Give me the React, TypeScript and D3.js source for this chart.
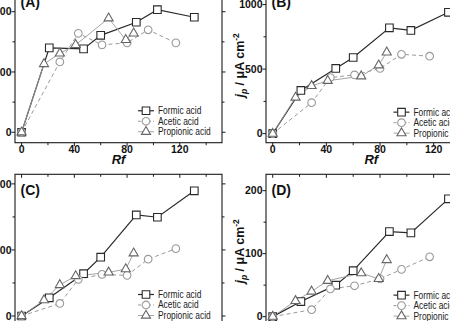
import React from 'react';
import * as d3 from 'd3';

// Rf values at which each acid was measured
const rfFormic = [0, 21, 47, 60, 87, 103, 131];
const rfAcetic = [0, 29, 43, 61, 80, 96, 117];
const rfPropionic = [0, 17, 29, 41, 66, 79, 85];

// peak currents per panel
const formicA = [0, 840, 830, 965, 1095, 1220, 1145];
const aceticA = [0, 700, 985, 870, 890, 1020, 890];
const propionicA = [0, 680, 785, 870, 1135, 920, 985];

const formicB = [0, 335, 505, 590, 820, 800, 940];
const aceticB = [0, 240, 435, 455, 505, 615, 600];
const propionicB = [0, 280, 370, 410, 445, 530, 630];

const formicC = [0, 55, 128, 178, 306, 299, 379];
const aceticC = [0, 38, 111, 126, 123, 172, 204];
const propionicC = [0, 48, 94, 121, 132, 142, 190];

const formicD = [0, 24, 50, 73, 135, 133, 187];
const aceticD = [0, 11, 44, 49, 60, 75, 95];
const propionicD = [0, 25, 40, 57, 69, 60, 90];

const xTicks = [0, 40, 80, 120];
const xMinor = [20, 60, 100, 140];
const seriesNames = ['Formic acid', 'Acetic acid', 'Propionic acid'];

const W = 450;
const H = 321;
const FONT = '"Liberation Sans", Arial, sans-serif';

const styles = [
  { line: '#2a2a2a', width: 1.2, dash: undefined, mark: '#2a2a2a', symbol: d3.symbolSquare, size: 58 },
  { line: '#9a9a9a', width: 1, dash: '4,3', mark: '#9a9a9a', symbol: d3.symbolCircle, size: 46 },
  { line: '#9a9a9a', width: 0.9, dash: undefined, mark: '#666', symbol: d3.symbolTriangle, size: 36 },
];

type Panel = {
  label: string;
  xRange: [number, number];
  yRange: [number, number];
  yDomain: [number, number];
  yTicks: number[];
  yMinor: number[];
  legendDx: number;
  yTitle: boolean;
  xTitle: boolean;
  values: number[][];
};

const panels: Panel[] = [
  { label: '(A)', xRange: [15, 222], yRange: [142.7, -14], yDomain: [-104, 1456],
    yTicks: [0, 600, 1200], yMinor: [300, 900], legendDx: 131, yTitle: false, xTitle: true,
    values: [formicA, aceticA, propionicA] },
  { label: '(B)', xRange: [266, 476.6], yRange: [142.7, -14], yDomain: [-70, 1144],
    yTicks: [0, 500, 1000], yMinor: [250, 750], legendDx: 135.5, yTitle: true, xTitle: true,
    values: [formicB, aceticB, propionicB] },
  { label: '(C)', xRange: [15, 222], yRange: [326.4, 174.3], yDomain: [-31.5, 429],
    yTicks: [0, 200, 400], yMinor: [100, 300], legendDx: 131, yTitle: false, xTitle: false,
    values: [formicC, aceticC, propionicC] },
  { label: '(D)', xRange: [266, 476.6], yRange: [326.4, 174.3], yDomain: [-15.5, 226],
    yTicks: [0, 100, 200], yMinor: [50, 150], legendDx: 135.5, yTitle: true, xTitle: false,
    values: [formicD, aceticD, propionicD] },
];

const rfSets = [rfFormic, rfAcetic, rfPropionic];

const PanelView: React.FC<{ p: Panel }> = ({ p }) => {
  const x = d3.scaleLinear().domain([-5, 152]).range(p.xRange);
  const y = d3.scaleLinear().domain(p.yDomain).range(p.yRange);
  const [l, r] = p.xRange;
  const [b, t] = p.yRange;
  const y0 = y(0);
  const cx = (x(-5) + x(152)) / 2;

  return (
    <g>
      {/* data lines, then open markers on top */}
      {p.values.map((vals, si) => {
        const st = styles[si];
        const pts = vals.map((v, i) => [x(rfSets[si][i]), y(v)] as [number, number]);
        return (
          <path key={'l' + si} d={d3.line()(pts) || ''} fill="none" stroke={st.line}
            strokeWidth={st.width} strokeDasharray={st.dash} />
        );
      })}
      {p.values.map((vals, si) => {
        const st = styles[si];
        const sym = d3.symbol(st.symbol, st.size)() || '';
        return vals.map((v, i) => (
          <path key={'m' + si + '-' + i} d={sym}
            transform={`translate(${x(rfSets[si][i])},${y(v)})`}
            fill="#fff" stroke={st.mark} strokeWidth={1.1} />
        ));
      })}

      {/* frame */}
      <rect x={l} y={t} width={r - l} height={b - t} fill="none" stroke="#1a1a1a" strokeWidth={1.1} />

      {/* x ticks: outward at bottom, inward at top */}
      {xTicks.concat(xMinor).map(v => {
        const len = xTicks.includes(v) ? 3.5 : 2.5;
        return (
          <g key={'xt' + v}>
            <line x1={x(v)} x2={x(v)} y1={b} y2={b + len} stroke="#1a1a1a" />
            <line x1={x(v)} x2={x(v)} y1={t} y2={t + len} stroke="#1a1a1a" />
          </g>
        );
      })}
      {xTicks.map(v => (
        <text key={'xl' + v} x={x(v)} y={b + 10.6} textAnchor="middle"
          fontFamily={FONT} fontWeight="bold" fontSize={10.5} fill="#111">{v}</text>
      ))}

      {/* y ticks: outward on both sides */}
      {p.yTicks.concat(p.yMinor).map(v => {
        const len = p.yTicks.includes(v) ? 3.5 : 2.5;
        return (
          <g key={'yt' + v}>
            <line x1={l} x2={l - len} y1={y(v)} y2={y(v)} stroke="#1a1a1a" />
            <line x1={r} x2={r + len} y1={y(v)} y2={y(v)} stroke="#1a1a1a" />
          </g>
        );
      })}
      {p.yTicks.map(v => (
        <text key={'yl' + v} x={l - 3.5} y={y(v)} dy="0.36em" textAnchor="end"
          fontFamily={FONT} fontWeight="bold" fontSize={10.5} fill="#111">{v}</text>
      ))}

      {/* panel letter */}
      <text x={l + 5.5} y={t + 21} fontFamily={FONT} fontWeight="bold" fontSize={14} fill="#111">{p.label}</text>

      {p.xTitle && (
        <text x={cx} y={b + 21.5} textAnchor="middle"
          fontFamily={FONT} fontWeight="bold" fontStyle="italic" fontSize={13} fill="#111">Rf</text>
      )}

      {p.yTitle && (
        <text transform={`translate(${l - 22.5},${(b + t) / 2 + 1}) rotate(-90)`} textAnchor="middle"
          fontFamily={FONT} fontWeight="bold" fontSize={12.5} fill="#111">
          <tspan fontStyle="italic">j</tspan>
          <tspan fontStyle="italic" fontSize={8.5} dy={3}>p</tspan>
          <tspan dy={-3}>{' / \u03bcA cm'}</tspan>
          <tspan fontSize={8.5} dy={-5}>-2</tspan>
        </text>
      )}

      {/* legend */}
      {seriesNames.map((name, si) => {
        const st = styles[si];
        const ly = y0 + [-21.5, -11, -0.5][si];
        const lx = l + p.legendDx;
        const sym = d3.symbol(st.symbol, st.size)() || '';
        return (
          <g key={'lg' + si}>
            <line x1={lx - 8} x2={lx + 8} y1={ly} y2={ly} stroke={st.line}
              strokeWidth={st.width} strokeDasharray={si === 1 ? '3,2' : undefined} />
            <path d={sym} transform={`translate(${lx},${ly})`} fill="#fff" stroke={st.mark} strokeWidth={1.1} />
            <text transform={`translate(${lx + 12},${ly}) scale(0.84,1)`} dy="0.35em"
              fontFamily={FONT} fontSize={10} fill="#222">{name}</text>
          </g>
        );
      })}
    </g>
  );
};

const App: React.FC = () => (
  <div style={{ position: 'fixed', left: 0, top: 0, width: W, height: H, overflow: 'hidden', background: '#fff' }}>
    <svg width={W} height={H} style={{ display: 'block' }}>
      <rect width={W} height={H} fill="#fff" />
      {panels.map(p => <PanelView key={p.label} p={p} />)}
    </svg>
  </div>
);

export default App;
